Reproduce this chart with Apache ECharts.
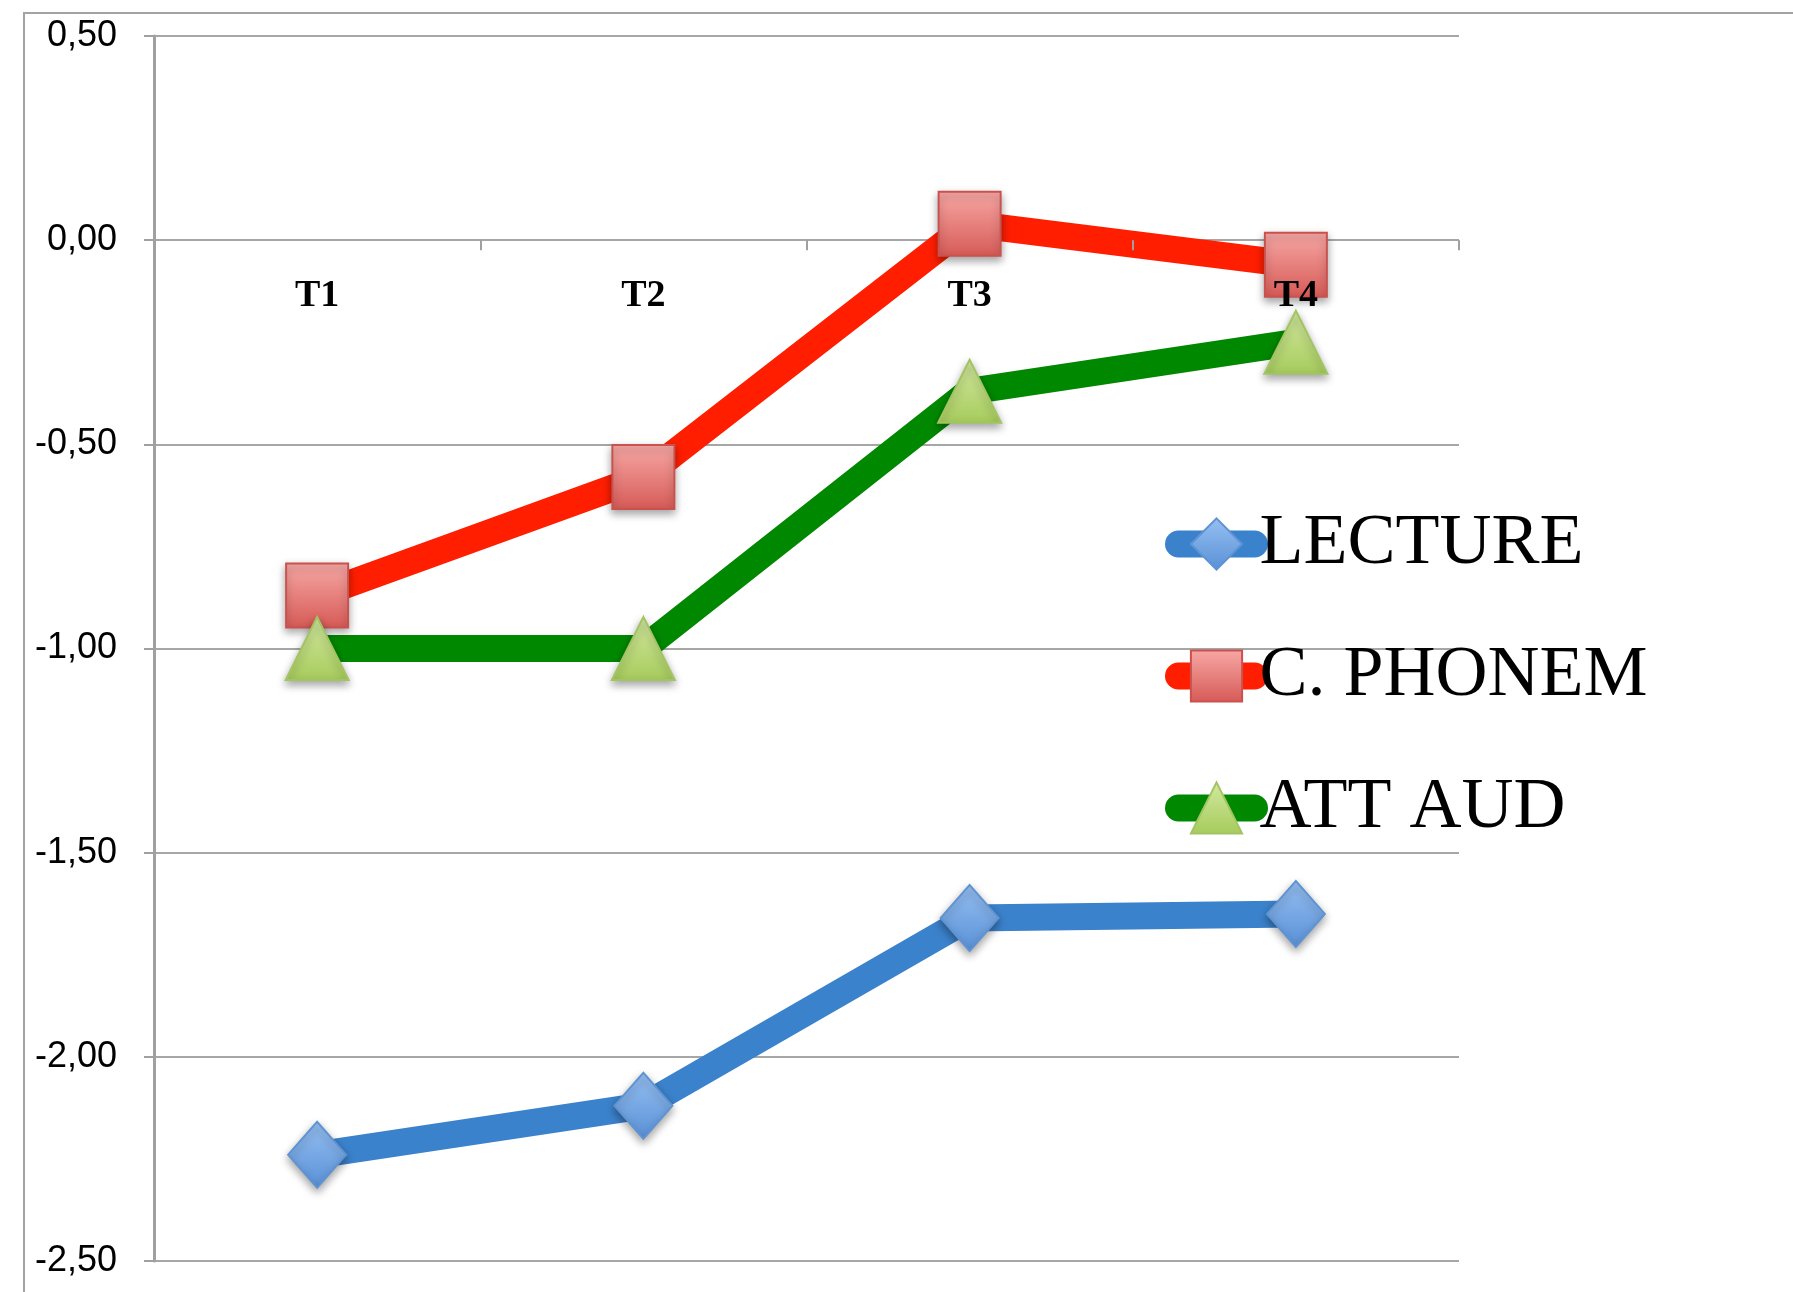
<!DOCTYPE html>
<html>
<head>
<meta charset="utf-8">
<script src="https://cdn.jsdelivr.net/npm/echarts@6/dist/echarts.min.js"></script>
<style>
html, body { margin: 0; padding: 0; background: #fff; }
#line-chart { width: 1793px; height: 1292px; }
</style>
</head>
<body>
<div id="line-chart"></div>
<script>
// values
var categories = ['T1', 'T2', 'T3', 'T4'];
var lecture = [-2.24, -2.12, -1.66, -1.65];
var phonem = [-0.87, -0.58, 0.04, -0.06];
var attAud = [-1.00, -1.00, -0.37, -0.25];
var yMin = -2.5, yMax = 0.5, yStep = 0.5;

var gridTop = 36, gridBottom = 31, chartHeight = 1292;
// move the category axis up to the zero line (onZero keeps the labels at the bottom in v6)
var plotHeight = chartHeight - gridTop - gridBottom;
var zeroOffset = -plotHeight * (0 - yMin) / (yMax - yMin);

function grad(top, bottom) {
    return new echarts.graphic.LinearGradient(0, 0, 0, 1, [
        {offset: 0, color: top},
        {offset: 1, color: bottom}
    ]);
}

var shadow = {shadowBlur: 8, shadowColor: 'rgba(0,0,0,0.35)', shadowOffsetY: 4};

option = {
    backgroundColor: '#fff',
    animation: false,
    graphic: [{
        type: 'rect',
        silent: true,
        z: -10,
        shape: {x: 24, y: 13, width: 1850, height: 1350},
        style: {fill: 'none', stroke: '#a3a3a3', lineWidth: 2}
    }],
    grid: {
        left: 154,
        right: 334,
        top: gridTop,
        bottom: gridBottom,
        outerBoundsMode: 'none'
    },
    legend: {
        orient: 'vertical',
        left: 1165,
        top: 508,
        padding: 0,
        itemWidth: 76,
        itemHeight: 64,
        itemGap: 60,
        lineStyle: {width: 'inherit'},
        textStyle: {
            fontFamily: 'Liberation Serif',
            fontSize: 72,
            lineHeight: 72,
            color: '#000'
        },
        data: ['LECTURE', 'C. PHONEM', 'ATT AUD']
    },
    xAxis: {
        type: 'category',
        data: categories,
        position: 'bottom',
        offset: zeroOffset,
        z: 20,
        // the zero line itself comes from the y split lines
        axisLine: {show: true, onZero: false, lineStyle: {color: 'rgba(0,0,0,0)'}},
        axisTick: {show: true, length: 10, lineStyle: {color: '#a0a0a0', width: 2}},
        axisLabel: {
            interval: 0,
            showMinLabel: true,
            showMaxLabel: true,
            hideOverlap: false,
            margin: 37,
            fontFamily: 'Liberation Serif',
            fontWeight: 'bold',
            fontSize: 38,
            color: '#000'
        },
        splitLine: {show: false}
    },
    yAxis: {
        type: 'value',
        min: yMin,
        max: yMax,
        interval: yStep,
        axisLine: {show: true, lineStyle: {color: '#a0a0a0', width: 3}},
        axisTick: {show: true, length: 10, lineStyle: {color: '#a0a0a0', width: 2}},
        axisLabel: {
            margin: 37,
            fontFamily: 'Liberation Sans',
            fontSize: 36,
            color: '#000',
            formatter: function (v) { return v.toFixed(2).replace('.', ','); }
        },
        splitLine: {show: true, lineStyle: {color: '#a6a6a6', width: 2}}
    },
    series: [
        {
            name: 'LECTURE',
            type: 'line',
            z: 2,
            data: lecture,
            symbol: 'diamond',
            symbolSize: [58, 66],
            lineStyle: {color: '#3b82cc', width: 27, cap: 'round', join: 'round'},
            itemStyle: Object.assign({color: grad('#97c0f2', '#5890d6'), borderColor: '#5f93d2', borderWidth: 2}, shadow),
            emphasis: {disabled: true}
        },
        {
            name: 'C. PHONEM',
            type: 'line',
            z: 2,
            data: phonem,
            symbol: 'rect',
            symbolSize: [62, 64],
            lineStyle: {color: '#ff1e00', width: 27, cap: 'round', join: 'round'},
            itemStyle: Object.assign({color: grad('#f7a8a5', '#d65a56'), borderColor: '#c9524e', borderWidth: 2}, shadow),
            emphasis: {disabled: true}
        },
        {
            name: 'ATT AUD',
            type: 'line',
            z: 2,
            data: attAud,
            symbol: 'triangle',
            symbolSize: [63, 63],
            lineStyle: {color: '#008800', width: 27, cap: 'round', join: 'round'},
            itemStyle: Object.assign({color: grad('#d3e9a0', '#a6cb5c'), borderColor: '#a3c462', borderWidth: 2}, shadow),
            emphasis: {disabled: true}
        }
    ]
};

var line = document.getElementById('line-chart');
var lineChart = echarts.init(line);
lineChart.setOption(option);
</script>
</body>
</html>
